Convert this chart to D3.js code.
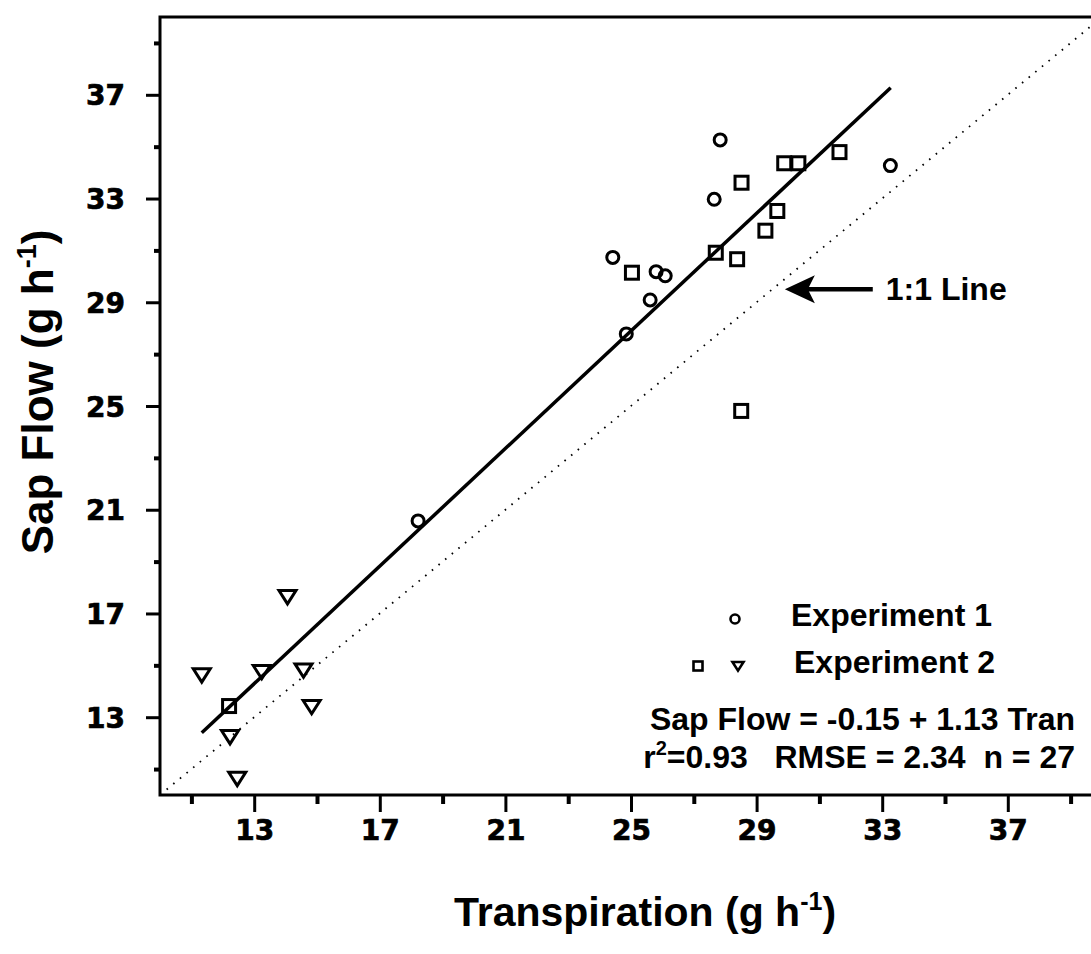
<!DOCTYPE html>
<html>
<head>
<meta charset="utf-8">
<script src="https://cdn.jsdelivr.net/npm/d3@7/dist/d3.min.js"></script>
<style>
  body { margin: 0; background: #fff; }
  .axis text { font-family: "DejaVu Sans", sans-serif; font-weight: bold; font-size: 28px; fill: #000; stroke: #000; stroke-width: 0.7px; }
  .axis line { stroke: #000; }
  .note { font-family: "Liberation Sans", Arial, sans-serif; font-weight: bold; font-size: 32px; fill: #000; white-space: pre; }
  .title { font-family: "Liberation Sans", Arial, sans-serif; font-weight: bold; font-size: 41px; fill: #000; }
</style>
</head>
<body>
<div id="chart"></div>
<script>
var svgWidth = 1091;
var svgHeight = 954;

var margin = { top: 17, right: -11, bottom: 159, left: 160 };
var width = svgWidth - margin.left - margin.right;
var height = svgHeight - margin.top - margin.bottom;

// data (transpiration, sap flow in g h-1)
var exp1Tran = [27.84, 33.26, 27.65, 24.42, 25.80, 26.09, 25.61, 24.85, 18.22];
var exp1Sap  = [35.26, 34.27, 32.97, 30.73, 30.18, 30.02, 29.09, 27.78, 20.57];

var exp2SqTran = [28.52, 29.88, 30.33, 31.64, 29.66, 29.28, 27.70, 28.38, 25.03, 28.51, 12.20];
var exp2SqSap  = [33.61, 34.36, 34.36, 34.79, 32.52, 31.76, 30.91, 30.66, 30.14, 24.81, 13.43];

var exp2TriTran = [14.06, 11.33, 13.24, 14.57, 14.83, 12.23, 12.46];
var exp2TriSap  = [17.65, 14.63, 14.76, 14.82, 13.41, 12.25, 10.64];

// fitted regression line end points and the 1:1 line
var fitTran = [11.33, 33.27];
var fitSap  = [12.40, 37.27];
var oneToOne = [10, 40];

var majorTicks = [13, 17, 21, 25, 29, 33, 37];
var minorTicks = [11, 15, 19, 23, 27, 31, 35, 39];

var svg = d3.select("#chart")
  .append("svg")
  .attr("width", svgWidth)
  .attr("height", svgHeight);

var chartGroup = svg.append("g")
  .attr("transform", `translate(${margin.left}, ${margin.top})`);

var xScale = d3.scaleLinear().domain([10, 40]).range([0, width]);
var yScale = d3.scaleLinear().domain([10, 40]).range([height, 0]);

// axes: major ticks with labels, minor ticks without
var xMajor = d3.axisBottom(xScale).tickValues(majorTicks).tickSize(17).tickSizeOuter(0).tickPadding(8);
var xMinor = d3.axisBottom(xScale).tickValues(minorTicks).tickSize(9).tickSizeOuter(0).tickFormat("");
var yMajor = d3.axisLeft(yScale).tickValues(majorTicks).tickSize(14).tickSizeOuter(0).tickPadding(21);
var yMinor = d3.axisLeft(yScale).tickValues(minorTicks).tickSize(6).tickSizeOuter(0).tickFormat("");

var gx = chartGroup.append("g").attr("class", "axis").attr("transform", `translate(0, ${height})`).call(xMajor);
var gx2 = chartGroup.append("g").attr("class", "axis").attr("transform", `translate(0, ${height})`).call(xMinor);
var gy = chartGroup.append("g").attr("class", "axis").call(yMajor);
var gy2 = chartGroup.append("g").attr("class", "axis").call(yMinor);

[gx, gx2, gy, gy2].forEach(g => g.select(".domain").remove());
gx.selectAll("line").attr("stroke-width", 3);
gx2.selectAll("line").attr("stroke-width", 4);
gy.selectAll("line").attr("stroke-width", 3);
gy2.selectAll("line").attr("stroke-width", 4);
gx.selectAll("text").attr("dy", "0.72em");
gy.selectAll("text").attr("dy", "0.36em");

// frame (left, top, bottom)
chartGroup.append("path")
  .attr("d", `M${width},0 L0,0 L0,${height} L${width},${height}`)
  .attr("fill", "none")
  .attr("stroke", "#000")
  .attr("stroke-width", 3);

// 1:1 line
chartGroup.append("line")
  .attr("x1", xScale(oneToOne[0])).attr("y1", yScale(oneToOne[0]))
  .attr("x2", xScale(oneToOne[1])).attr("y2", yScale(oneToOne[1]))
  .attr("stroke", "#000")
  .attr("stroke-width", 1.8)
  .attr("stroke-dasharray", "1.6,7");

// regression line
chartGroup.append("line")
  .attr("x1", xScale(fitTran[0])).attr("y1", yScale(fitSap[0]))
  .attr("x2", xScale(fitTran[1])).attr("y2", yScale(fitSap[1]))
  .attr("stroke", "#000")
  .attr("stroke-width", 3.5);

function triPath(s) {
  return `M${-s},${-s * 0.72} L${s},${-s * 0.72} L0,${s * 0.85} Z`;
}

// points
chartGroup.selectAll(".exp1")
  .data(exp1Tran)
  .enter()
  .append("circle")
  .attr("cx", d => xScale(d))
  .attr("cy", (d, i) => yScale(exp1Sap[i]))
  .attr("r", 6)
  .attr("fill", "none")
  .attr("stroke", "#000")
  .attr("stroke-width", 3);

chartGroup.selectAll(".sq")
  .data(exp2SqTran)
  .enter()
  .append("rect")
  .attr("x", d => xScale(d) - 6.5)
  .attr("y", (d, i) => yScale(exp2SqSap[i]) - 6.5)
  .attr("width", 13)
  .attr("height", 13)
  .attr("fill", "none")
  .attr("stroke", "#000")
  .attr("stroke-width", 3);

chartGroup.selectAll(".tri")
  .data(exp2TriTran)
  .enter()
  .append("path")
  .attr("transform", (d, i) => `translate(${xScale(d)}, ${yScale(exp2TriSap[i])})`)
  .attr("d", triPath(8.5))
  .attr("fill", "none")
  .attr("stroke", "#000")
  .attr("stroke-width", 3)
  .attr("stroke-linejoin", "miter");

// arrow pointing to the 1:1 line
var arrowTip = [29.9, 29.5];
var arrowEnd = 32.7;
var ax = xScale(arrowTip[0]), ay = yScale(arrowTip[1]);
chartGroup.append("line")
  .attr("x1", ax + 20).attr("y1", ay)
  .attr("x2", xScale(arrowEnd)).attr("y2", ay)
  .attr("stroke", "#000")
  .attr("stroke-width", 4.5);
chartGroup.append("path")
  .attr("d", `M${ax},${ay} L${ax + 30},${ay - 14} L${ax + 23},${ay} L${ax + 30},${ay + 14} Z`)
  .attr("fill", "#000");
chartGroup.append("text")
  .attr("class", "note")
  .attr("x", xScale(arrowEnd) + 13)
  .attr("y", ay + 11)
  .text("1:1 Line");

// legend
var legendX = 791 - margin.left;
chartGroup.append("circle")
  .attr("cx", 735 - margin.left).attr("cy", 619 - margin.top)
  .attr("r", 4.5).attr("fill", "none").attr("stroke", "#000").attr("stroke-width", 2.6);
chartGroup.append("rect")
  .attr("x", 698 - margin.left - 4.5).attr("y", 666 - margin.top - 4.5)
  .attr("width", 9).attr("height", 9)
  .attr("fill", "none").attr("stroke", "#000").attr("stroke-width", 2.6);
chartGroup.append("path")
  .attr("transform", `translate(${738 - margin.left}, ${666 - margin.top})`)
  .attr("d", triPath(5.5))
  .attr("fill", "none").attr("stroke", "#000").attr("stroke-width", 2.6);

chartGroup.append("text").attr("class", "note")
  .attr("x", legendX).attr("y", 626 - margin.top).text("Experiment 1");
chartGroup.append("text").attr("class", "note")
  .attr("x", legendX + 3).attr("y", 673 - margin.top).text("Experiment 2");

chartGroup.append("text").attr("class", "note")
  .attr("text-anchor", "end")
  .attr("x", 1075 - margin.left).attr("y", 730 - margin.top)
  .text("Sap Flow = -0.15 + 1.13 Tran");

var stats = chartGroup.append("text").attr("class", "note")
  .attr("text-anchor", "end")
  .attr("x", 1075 - margin.left).attr("y", 768 - margin.top);
stats.append("tspan").text("r");
stats.append("tspan").attr("dy", -13).style("font-size", "20px").text("2");
stats.append("tspan").attr("dy", 13).text("=0.93   RMSE = 2.34  n = 27");

// axis titles
var xTitle = svg.append("text")
  .attr("class", "title")
  .attr("text-anchor", "middle")
  .attr("x", 645)
  .attr("y", 926);
xTitle.append("tspan").text("Transpiration (g h");
xTitle.append("tspan").attr("dy", -16).style("font-size", "25px").text("-1");
xTitle.append("tspan").attr("dy", 16).text(")");

var yTitle = svg.append("text")
  .attr("class", "title")
  .style("font-size", "44px")
  .attr("text-anchor", "middle")
  .attr("transform", "translate(53, 392) rotate(-90)");
yTitle.append("tspan").text("Sap Flow (g h");
yTitle.append("tspan").attr("dy", -17).style("font-size", "27px").text("-1");
yTitle.append("tspan").attr("dy", 17).text(")");
</script>
</body>
</html>
